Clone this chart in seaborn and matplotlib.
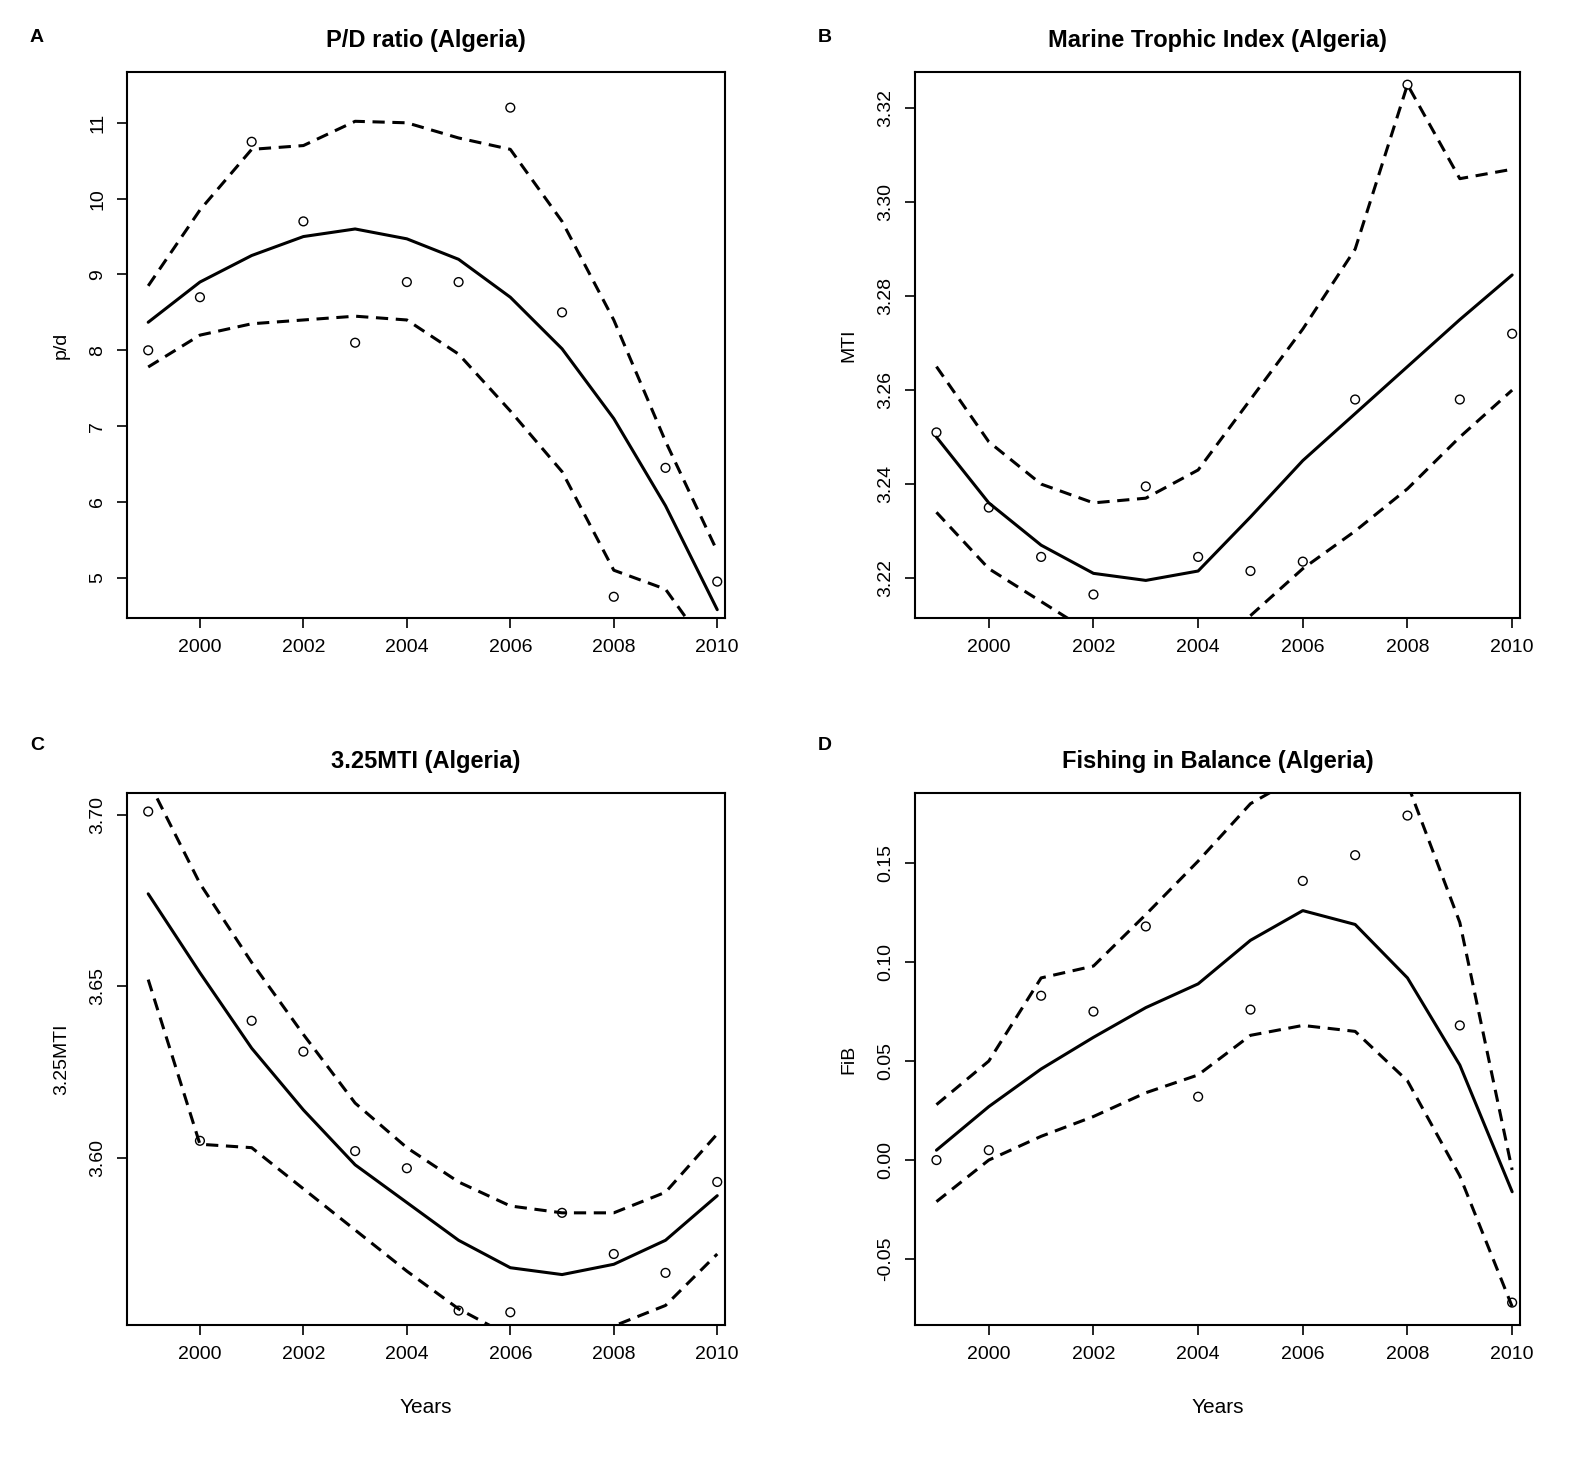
import matplotlib
matplotlib.use('Agg')
import matplotlib.pyplot as plt
import seaborn as sns
import pandas as pd

sns.set_style('white')
plt.rcParams['font.family'] = ['Liberation Sans', 'DejaVu Sans']
plt.rcParams['text.color'] = 'black'
plt.rcParams['axes.labelcolor'] = 'black'
plt.rcParams['xtick.color'] = 'black'
plt.rcParams['ytick.color'] = 'black'

years = list(range(1999, 2011))

pd_obs = [8.0, 8.7, 10.75, 9.7, 8.1, 8.9, 8.9, 11.2, 8.5, 4.75, 6.45, 4.95]
pd_fit = [8.37, 8.9, 9.25, 9.5, 9.6, 9.47, 9.2, 8.7, 8.02, 7.1, 5.95, 4.58]
pd_up = [8.85, 9.85, 10.65, 10.7, 11.02, 11.0, 10.8, 10.65, 9.7, 8.4, 6.8, 5.35]
pd_lo = [7.78, 8.2, 8.35, 8.4, 8.45, 8.4, 7.95, 7.2, 6.4, 5.1, 4.85, 3.9]

mti_obs = [3.251, 3.235, 3.2245, 3.2165, 3.2395, 3.2245, 3.2215, 3.2235, 3.258, 3.325, 3.258, 3.272]
mti_fit = [3.250, 3.236, 3.227, 3.221, 3.2195, 3.2215, 3.233, 3.245, 3.255, 3.265, 3.275, 3.2845]
mti_up = [3.265, 3.249, 3.240, 3.236, 3.237, 3.243, 3.258, 3.273, 3.290, 3.325, 3.305, 3.307]
mti_lo = [3.234, 3.222, 3.215, 3.208, 3.203, 3.203, 3.212, 3.222, 3.230, 3.239, 3.250, 3.260]

m325_obs = [3.701, 3.605, 3.640, 3.631, 3.602, 3.597, 3.5555, 3.555, 3.584, 3.572, 3.5665, 3.593]
m325_fit = [3.677, 3.654, 3.632, 3.614, 3.598, 3.587, 3.576, 3.568, 3.566, 3.569, 3.576, 3.589]
m325_up = [3.71, 3.680, 3.657, 3.636, 3.616, 3.603, 3.593, 3.586, 3.584, 3.584, 3.590, 3.607]
m325_lo = [3.652, 3.604, 3.603, 3.591, 3.579, 3.567, 3.556, 3.548, 3.548, 3.551, 3.557, 3.572]

fib_obs = [0.0, 0.005, 0.083, 0.075, 0.118, 0.032, 0.076, 0.141, 0.154, 0.174, 0.068, -0.072]
fib_fit = [0.005, 0.027, 0.046, 0.062, 0.077, 0.089, 0.111, 0.126, 0.119, 0.092, 0.048, -0.016]
fib_up = [0.028, 0.05, 0.092, 0.098, 0.124, 0.151, 0.18, 0.195, 0.186, 0.19, 0.12, -0.005]
fib_lo = [-0.021, 0.0, 0.012, 0.022, 0.034, 0.043, 0.063, 0.068, 0.065, 0.04, -0.008, -0.074]

W, H = 1575, 1471
fig = plt.figure(figsize=(W / 100, H / 100), dpi=100)

panels = [
    ('A', 'P/D ratio (Algeria)', 'p/d', pd_obs, pd_fit, pd_up, pd_lo,
     (127, 72, 725, 618), (4.47, 11.67), [5, 6, 7, 8, 9, 10, 11], '{:.0f}', False),
    ('B', 'Marine Trophic Index (Algeria)', 'MTI', mti_obs, mti_fit, mti_up, mti_lo,
     (915, 72, 1520, 618), (3.2115, 3.3277), [3.22, 3.24, 3.26, 3.28, 3.30, 3.32], '{:.2f}', False),
    ('C', '3.25MTI (Algeria)', '3.25MTI', m325_obs, m325_fit, m325_up, m325_lo,
     (127, 793, 725, 1325), (3.5513, 3.7064), [3.60, 3.65, 3.70], '{:.2f}', True),
    ('D', 'Fishing in Balance (Algeria)', 'FiB', fib_obs, fib_fit, fib_up, fib_lo,
     (915, 793, 1520, 1325), (-0.0833, 0.1854), [-0.05, 0.0, 0.05, 0.10, 0.15], '{:.2f}', True),
]

for letter, title, ylab, obs, fit, up, lo, box, ylim, yt, fmt, bottom in panels:
    x0, y0, x1, y1 = box
    ax = fig.add_axes([x0 / W, 1 - y1 / H, (x1 - x0) / W, (y1 - y0) / H])
    df = pd.DataFrame({'year': years, 'obs': obs, 'fit': fit, 'up': up, 'lo': lo})
    sns.scatterplot(data=df, x='year', y='obs', ax=ax, marker='o', s=40,
                    facecolor='none', edgecolor='black', linewidth=1)
    sns.lineplot(data=df, x='year', y='fit', ax=ax, color='black', linewidth=2.2)
    sns.lineplot(data=df, x='year', y='up', ax=ax, color='black', linewidth=2.2, linestyle=(0, (4, 2.5)))
    sns.lineplot(data=df, x='year', y='lo', ax=ax, color='black', linewidth=2.2, linestyle=(0, (4, 2.5)))
    ax.set_xlim(1998.59, 2010.15)
    ax.set_ylim(*ylim)
    ax.set_xticks(range(2000, 2011, 2))
    ax.set_yticks(yt)
    ax.set_yticklabels([fmt.format(v) for v in yt], rotation=90, va='center')
    ax.tick_params(direction='out', length=7, width=1.2, labelsize=14, left=True, bottom=True, pad=8)
    for s in ax.spines.values():
        s.set_linewidth(1.5)
        s.set_color('black')
    ax.set_ylabel(ylab, fontsize=14, labelpad=14)
    ax.set_xlabel('Years' if bottom else '', fontsize=15, labelpad=25)
    ax.set_title(title, fontsize=17, fontweight='bold', pad=18)
    fig.text((x0 - 97) / W, 1 - 37 / H if not bottom else 1 - 745 / H, letter,
             fontsize=14, fontweight='bold', va='center')

fig.savefig('out.png', dpi=100)
